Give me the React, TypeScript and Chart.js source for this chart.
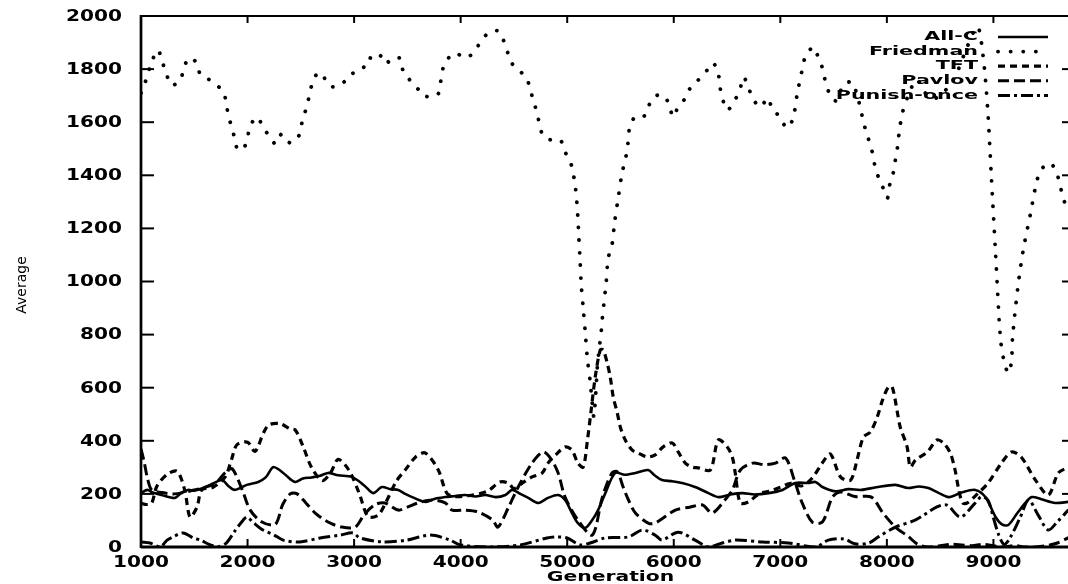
import React, { useEffect, useRef } from "react";
import { Chart, registerables } from "chart.js";
Chart.register(...registerables);

const xTickValues = [1000, 2000, 3000, 4000, 5000, 6000, 7000, 8000, 9000];
const yTickValues = [0, 200, 400, 600, 800, 1000, 1200, 1400, 1600, 1800, 2000];
const seriesNames = ["All-C", "Friedman", "TFT", "Pavlov", "Punish-once"];

const allCGen = [1000, 1060, 1110, 1200, 1320, 1380, 1440, 1500, 1600, 1680, 1760, 1820, 1880, 2000, 2100, 2170, 2240, 2300, 2360, 2445, 2520, 2600, 2680, 2755, 2850, 2980, 3100, 3180, 3260, 3340, 3415, 3480, 3545, 3670, 3760, 3855, 3950, 4040, 4140, 4230, 4330, 4420, 4485, 4560, 4635, 4730, 4820, 4915, 4980, 5045, 5100, 5170, 5235, 5290, 5355, 5450, 5540, 5640, 5760, 5820, 5890, 5980, 6080, 6200, 6325, 6420, 6530, 6645, 6760, 6890, 7020, 7140, 7265, 7330, 7395, 7515, 7640, 7760, 7900, 8080, 8200, 8300, 8390, 8480, 8580, 8700, 8830, 8925, 9020, 9080, 9140, 9220, 9300, 9360, 9450, 9580, 9705];
const allCVal = [203, 215, 205, 195, 185, 205, 215, 212, 225, 240, 252, 230, 215, 235, 245, 262, 301, 290, 270, 245, 258, 262, 268, 279, 270, 264, 230, 203, 226, 218, 215, 200, 188, 170, 182, 188, 192, 196, 190, 196, 188, 196, 215, 200, 185, 166, 185, 196, 177, 128, 90, 72, 102, 139, 200, 279, 272, 279, 290, 270, 252, 248, 241, 226, 203, 188, 198, 203, 198, 203, 215, 241, 241, 245, 226, 210, 218, 215, 225, 234, 222, 228, 222, 205, 188, 205, 215, 188, 113, 85, 83, 125, 166, 188, 180, 166, 170];

const friedmanGen = [1000, 1040, 1075, 1115, 1160, 1200, 1240, 1280, 1365, 1400, 1450, 1525, 1555, 1620, 1705, 1770, 1800, 1820, 1855, 1880, 1910, 1975, 2005, 2040, 2090, 2145, 2210, 2265, 2320, 2400, 2480, 2510, 2540, 2570, 2595, 2635, 2700, 2745, 2820, 2930, 2990, 3085, 3130, 3215, 3270, 3335, 3430, 3460, 3510, 3555, 3610, 3650, 3780, 3810, 3830, 3870, 3950, 4040, 4120, 4180, 4260, 4350, 4400, 4440, 4485, 4565, 4615, 4650, 4680, 4715, 4740, 4775, 4850, 4935, 4980, 5030, 5055, 5075, 5090, 5100, 5110, 5120, 5131, 5150, 5170, 5188, 5216, 5235, 5250, 5265, 5282, 5300, 5319, 5329, 5366, 5385, 5420, 5445, 5480, 5515, 5545, 5565, 5575, 5590, 5640, 5715, 5760, 5810, 5900, 5950, 5995, 6040, 6110, 6155, 6230, 6315, 6370, 6420, 6435, 6500, 6575, 6625, 6655, 6700, 6735, 6810, 6885, 6925, 6980, 7065, 7120, 7160, 7205, 7235, 7310, 7355, 7395, 7420, 7470, 7530, 7590, 7675, 7720, 7750, 7770, 7800, 7830, 7865, 7890, 7920, 7965, 8005, 8030, 8060, 8080, 8100, 8110, 8125, 8145, 8200, 8280, 8360, 8450, 8550, 8650, 8750, 8850, 8900, 8945, 8980, 9020, 9066, 9100, 9140, 9170, 9180, 9230, 9280, 9345, 9410, 9460, 9535, 9600, 9660, 9705];
const friedmanVal = [1710, 1751, 1797, 1842, 1872, 1827, 1781, 1740, 1755, 1800, 1842, 1823, 1781, 1766, 1740, 1718, 1672, 1623, 1578, 1537, 1495, 1510, 1555, 1597, 1620, 1582, 1544, 1518, 1555, 1522, 1548, 1597, 1638, 1684, 1729, 1774, 1785, 1744, 1733, 1759, 1785, 1804, 1842, 1834, 1857, 1823, 1842, 1793, 1766, 1740, 1721, 1699, 1702, 1747, 1797, 1834, 1861, 1842, 1861, 1898, 1936, 1944, 1910, 1864, 1819, 1789, 1770, 1729, 1684, 1638, 1593, 1548, 1533, 1533, 1488, 1450, 1409, 1363, 1300, 1240, 1160, 1088, 994, 900, 806, 716, 621, 542, 490, 560, 674, 745, 810, 859, 998, 1088, 1137, 1224, 1318, 1409, 1458, 1503, 1544, 1589, 1620, 1620, 1657, 1695, 1702, 1672, 1620, 1657, 1691, 1729, 1759, 1797, 1823, 1778, 1729, 1646, 1684, 1729, 1770, 1733, 1695, 1657, 1691, 1646, 1627, 1578, 1616, 1710, 1797, 1846, 1883, 1846, 1804, 1759, 1700, 1680, 1740, 1751, 1700, 1657, 1620, 1571, 1533, 1484, 1431, 1394, 1352, 1314, 1371, 1409, 1458, 1507, 1544, 1589, 1634, 1700, 1760, 1710, 1690, 1720, 1780, 1880, 1960, 1860, 1657, 1400, 1107, 787, 700, 655, 700, 791, 980, 1119, 1250, 1382, 1427, 1446, 1401, 1307, 1270];

const tftGen = [1000, 1050, 1100, 1150, 1250, 1340, 1410, 1460, 1525, 1570, 1675, 1790, 1850, 1900, 2000, 2070, 2150, 2200, 2300, 2400, 2450, 2520, 2600, 2700, 2780, 2850, 2950, 3050, 3130, 3225, 3300, 3400, 3480, 3580, 3670, 3790, 3870, 3950, 4100, 4250, 4370, 4450, 4500, 4580, 4670, 4765, 4820, 4900, 4980, 5045, 5100, 5150, 5190, 5225, 5263, 5310, 5338, 5375, 5404, 5432, 5470, 5498, 5545, 5610, 5667, 5750, 5826, 5901, 5986, 6042, 6108, 6174, 6230, 6343, 6418, 6502, 6549, 6577, 6624, 6700, 6800, 6900, 7000, 7100, 7200, 7300, 7400, 7470, 7565, 7660, 7720, 7780, 7845, 7910, 7960, 8015, 8050, 8100, 8125, 8190, 8220, 8270, 8380, 8470, 8530, 8595, 8640, 8670, 8710, 8755, 8850, 8950, 9075, 9170, 9260, 9395, 9515, 9610, 9705];
const tftVal = [165, 160, 165, 230, 275, 285, 215, 113, 150, 215, 225, 264, 330, 385, 395, 360, 430, 460, 465, 445, 440, 380, 300, 250, 280, 330, 290, 200, 115, 120, 170, 250, 290, 340, 354, 290, 203, 190, 195, 210, 245, 240, 220, 241, 264, 279, 316, 350, 377, 365, 316, 301, 403, 516, 640, 742, 742, 693, 640, 565, 505, 452, 403, 365, 354, 339, 347, 377, 392, 358, 316, 301, 298, 290, 403, 377, 339, 279, 166, 170, 200, 210, 225, 240, 230, 260, 320, 350, 264, 252, 328, 414, 433, 490, 554, 603, 603, 504, 452, 377, 301, 328, 358, 403, 392, 354, 290, 226, 166, 166, 200, 241, 316, 358, 339, 252, 196, 279, 301];

const pavlovGen = [1000, 1030, 1060, 1100, 1200, 1300, 1400, 1500, 1600, 1700, 1790, 1855, 1950, 2025, 2135, 2260, 2330, 2400, 2465, 2550, 2635, 2755, 2885, 3010, 3100, 3200, 3290, 3415, 3500, 3600, 3730, 3855, 3920, 4040, 4165, 4300, 4350, 4450, 4540, 4670, 4775, 4850, 4915, 4980, 5100, 5235, 5330, 5420, 5470, 5525, 5575, 5640, 5760, 5825, 6015, 6150, 6270, 6360, 6480, 6550, 6625, 6740, 6850, 6955, 7050, 7140, 7205, 7300, 7395, 7490, 7570, 7700, 7855, 7960, 8080, 8200, 8290, 8390, 8500, 8600, 8700, 8800, 8900, 9000, 9100, 9200, 9300, 9400, 9500, 9600, 9705];
const pavlovVal = [370, 320, 260, 215, 205, 200, 205, 215, 225, 240, 280, 295, 215, 139, 94, 85, 160, 200, 200, 165, 128, 94, 75, 75, 125, 160, 166, 139, 150, 166, 177, 166, 139, 139, 132, 102, 75, 150, 226, 316, 358, 330, 279, 188, 102, 45, 188, 279, 283, 226, 177, 128, 90, 90, 139, 150, 158, 128, 177, 215, 290, 316, 310, 316, 335, 241, 166, 94, 94, 188, 207, 190, 188, 130, 75, 40, 10, 0, 5, 10, 8, 5, 10, 5, 0, 5, 0, 0, 5, 15, 35];

const punishGen = [1000, 1085, 1180, 1245, 1300, 1395, 1490, 1555, 1650, 1715, 1800, 1880, 1960, 1995, 2060, 2145, 2250, 2335, 2490, 2680, 2870, 2990, 3055, 3270, 3495, 3715, 3900, 3995, 4275, 4560, 4810, 4905, 5000, 5120, 5215, 5355, 5575, 5705, 5825, 5890, 6040, 6200, 6325, 6455, 6580, 6830, 7075, 7330, 7450, 7600, 7700, 7830, 7920, 8080, 8270, 8470, 8565, 8690, 8830, 8890, 8950, 9000, 9050, 9100, 9150, 9250, 9330, 9420, 9515, 9600, 9705];
const punishVal = [19, 15, 0, 26, 38, 53, 34, 26, 8, 0, 15, 60, 102, 113, 90, 64, 45, 26, 19, 34, 45, 53, 34, 19, 26, 45, 26, 8, 0, 8, 34, 38, 34, 8, 15, 34, 38, 64, 45, 26, 56, 26, 0, 15, 26, 19, 15, 0, 26, 30, 12, 15, 38, 75, 102, 151, 158, 113, 166, 190, 175, 110, 45, 10, 30, 110, 177, 120, 64, 95, 140];

const lineStyles = [
  { width: 2.6, dash: [] as number[], cap: "butt" },
  { width: 3.8, dash: [0.1, 12.5], cap: "round" },
  { width: 3.2, dash: [7, 5], cap: "butt" },
  { width: 3.0, dash: [11, 5], cap: "butt" },
  { width: 3.0, dash: [12, 4, 3, 4], cap: "butt" },
];

function pts(g: number[], v: number[]) {
  return g.map((x, i) => ({ x, y: v[i] }));
}

function stretchText(ctx: CanvasRenderingContext2D, text: string, x: number, y: number, sx: number, align: CanvasTextAlign) {
  ctx.save();
  ctx.translate(x, y);
  ctx.scale(sx, 1);
  ctx.textAlign = align;
  ctx.fillText(text, 0, 0);
  ctx.restore();
}

const framePlugin = {
  id: "gnuplotFrame",
  afterDatasetsDraw(chart: any) {
    const ctx: CanvasRenderingContext2D = chart.ctx;
    const { left, right, top, bottom } = chart.chartArea;
    const xs = chart.scales.x;
    const ys = chart.scales.y;
    ctx.save();
    ctx.strokeStyle = "#000";
    ctx.fillStyle = "#000";
    ctx.setLineDash([]);
    ctx.lineCap = "butt";
    ctx.lineWidth = 2.7;
    ctx.beginPath(); ctx.moveTo(left, top - 1); ctx.lineTo(left, bottom + 1); ctx.stroke();
    ctx.lineWidth = 2;
    ctx.beginPath(); ctx.moveTo(left, top); ctx.lineTo(right, top); ctx.stroke();
    ctx.lineWidth = 3;
    ctx.beginPath(); ctx.moveTo(left, bottom); ctx.lineTo(right, bottom); ctx.stroke();
    ctx.font = "bold 15px 'DejaVu Sans'";
    ctx.textBaseline = "middle";
    ctx.lineWidth = 2;
    yTickValues.forEach((v) => {
      const y = ys.getPixelForValue(v);
      ctx.beginPath(); ctx.moveTo(left, y); ctx.lineTo(left + 13, y); ctx.stroke();
      ctx.beginPath(); ctx.moveTo(right, y); ctx.lineTo(right - 6, y); ctx.stroke();
      stretchText(ctx, String(v), 122, y + 1, 1.34, "right");
    });
    xTickValues.forEach((v) => {
      const x = xs.getPixelForValue(v);
      if (v !== xTickValues[0]) {
        ctx.beginPath(); ctx.moveTo(x, bottom); ctx.lineTo(x, bottom - 8); ctx.stroke();
        ctx.beginPath(); ctx.moveTo(x, top); ctx.lineTo(x, top + 7); ctx.stroke();
      }
      stretchText(ctx, String(v), x, bottom + 16, 1.34, "center");
    });
    ctx.font = "bold 14px 'DejaVu Sans'";
    stretchText(ctx, "Generation", (left + right) / 2 + 6, bottom + 30, 1.45, "center");
    ctx.save();
    ctx.translate(22, 285);
    ctx.rotate(-Math.PI / 2);
    ctx.font = "14px 'DejaVu Sans'";
    stretchText(ctx, "Average", 0, 0, 1.0, "center");
    ctx.restore();
    ctx.font = "bold 12px 'DejaVu Sans'";
    seriesNames.forEach((name, i) => {
      const y = 37 + i * 14.6;
      stretchText(ctx, name, 978, y, 1.72, "right");
      const st = lineStyles[i];
      ctx.save();
      ctx.lineWidth = st.width;
      ctx.setLineDash(st.dash);
      ctx.lineCap = st.cap as CanvasLineCap;
      ctx.beginPath(); ctx.moveTo(998, y); ctx.lineTo(1048, y); ctx.stroke();
      ctx.restore();
    });
    ctx.restore();
  },
};

export default function App() {
  const ref = useRef<HTMLCanvasElement | null>(null);
  useEffect(() => {
    document.body.style.margin = "0";
    const canvas = ref.current!;
    const gens = [allCGen, friedmanGen, tftGen, pavlovGen, punishGen];
    const vals = [allCVal, friedmanVal, tftVal, pavlovVal, punishVal];
    const chart = new Chart(canvas, {
      type: "line",
      data: {
        datasets: seriesNames.map((name, i) => ({
          label: name,
          data: pts(gens[i], vals[i]),
          borderColor: "#000",
          backgroundColor: "#000",
          borderWidth: lineStyles[i].width,
          borderDash: lineStyles[i].dash,
          borderCapStyle: lineStyles[i].cap as CanvasLineCap,
          pointRadius: 0,
          tension: 0.3,
          fill: false,
        })),
      },
      options: {
        animation: false,
        responsive: false,
        devicePixelRatio: 1,
        layout: { padding: { left: 141, top: 16, right: 0, bottom: 37 } },
        plugins: { legend: { display: false }, tooltip: { enabled: false } },
        events: [],
        scales: {
          x: { type: "linear", min: 1000, max: 9700, display: false },
          y: { type: "linear", min: 0, max: 2000, display: false },
        },
      },
      plugins: [framePlugin],
    });
    return () => chart.destroy();
  }, []);
  return (
    <div style={{ width: 1068, height: 584, background: "#fff" }}>
      <canvas ref={ref} width={1068} height={584} />
    </div>
  );
}
